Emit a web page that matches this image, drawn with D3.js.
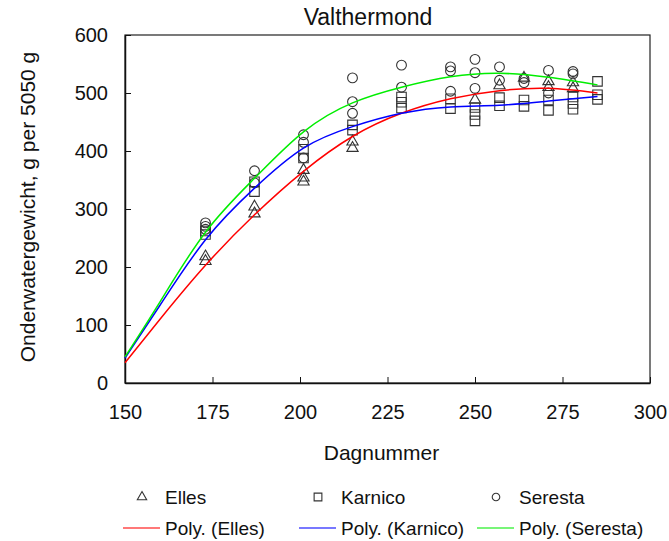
<!DOCTYPE html>
<html>
<head>
	<title>Valthermond</title>
	<script src="https://d3js.org/d3.v7.min.js" charset="utf-8"></script>
	<style>
		body { margin: 0; background: #fff; }
		text { font-family: "Liberation Sans", Arial, sans-serif; fill: #111; }
	</style>
</head>
<body>
	<script>
		// observations per variety: day number and weight
		var ellesDays = [173, 173, 187, 187, 201, 201, 201, 215, 215, 250, 257, 264, 271, 271, 278, 278];
		var ellesVals = [218, 210, 304, 292, 367, 354, 347, 416, 405, 488, 513, 526, 520, 510, 518, 508];

		var karnicoDays = [173, 173, 187, 187, 201, 201, 215, 215, 229, 229, 229, 243, 243, 250, 250, 250,
			257, 257, 264, 264, 271, 271, 278, 278, 278, 285, 285, 285];
		var karnicoVals = [262, 256, 347, 330, 403, 388, 445, 436, 493, 484, 474, 490, 473, 475, 463, 452,
			492, 478, 488, 477, 488, 470, 493, 482, 472, 520, 497, 489];

		var serestaDays = [173, 173, 173, 187, 187, 201, 201, 201, 215, 215, 215, 229, 229, 243, 243, 243,
			250, 250, 250, 257, 257, 264, 264, 271, 271, 278, 278];
		var serestaVals = [276, 270, 265, 366, 345, 428, 415, 388, 526, 485, 465, 548, 510, 545, 538, 503,
			558, 535, 508, 545, 522, 525, 518, 539, 500, 537, 533];

		// trendlines
		var trendDays = [150, 160, 173, 187, 201, 215, 229, 243, 257, 271, 285];
		var ellesTrend = [35, 110, 203, 290, 365, 425, 465, 490, 504, 508, 500];
		var karnicoTrend = [43, 134, 247, 336, 405, 442, 465, 476, 479, 486, 494];
		var serestaTrend = [45, 140, 260, 353, 433, 483, 510, 528, 534, 527, 514];

		var xTicks = [150, 175, 200, 225, 250, 275, 300];
		var yTicks = [0, 100, 200, 300, 400, 500, 600];

		var svgWidth = 669,
			svgHeight = 541,
			margin = {top: 35, right: 19, bottom: 158, left: 125},
			width = svgWidth - margin.left - margin.right,
			height = svgHeight - margin.top - margin.bottom,
			svg = d3.select("body")
				.append("svg")
				.attr("width", svgWidth)
				.attr("height", svgHeight),
			g = svg.append("g")
				.attr("transform", "translate(" + margin.left + "," + margin.top + ")");

		var x = d3.scaleLinear().domain([150, 300]).range([0, width]),
			y = d3.scaleLinear().domain([0, 600]).range([height, 0]);

		function pts(days, vals) {
			return days.map(function(d, i) { return {day: d, val: vals[i]}; });
		}

		var series = [
			{name: "Elles", shape: d3.symbolTriangle, color: "#ff0000", obs: pts(ellesDays, ellesVals), trend: pts(trendDays, ellesTrend)},
			{name: "Karnico", shape: d3.symbolSquare, color: "#0000ff", obs: pts(karnicoDays, karnicoVals), trend: pts(trendDays, karnicoTrend)},
			{name: "Seresta", shape: d3.symbolCircle, color: "#00ee00", obs: pts(serestaDays, serestaVals), trend: pts(trendDays, serestaTrend)}
		];

		// frame
		g.append("rect")
			.attr("width", width).attr("height", height)
			.attr("fill", "none").attr("stroke", "#222").attr("stroke-width", 1.2);

		// axes, ticks pointing inward
		var xAxis = g.append("g")
			.attr("transform", "translate(0," + height + ")")
			.call(d3.axisBottom(x).tickValues(xTicks).tickSize(-6).tickPadding(22).tickSizeOuter(0));
		var yAxis = g.append("g")
			.call(d3.axisLeft(y).tickValues(yTicks).tickSize(-6).tickPadding(17).tickSizeOuter(0));
		[xAxis, yAxis].forEach(function(a) {
			a.select(".domain").attr("stroke", "#111").attr("stroke-width", 1.5);
			a.selectAll(".tick line").attr("stroke", "#111");
			a.selectAll(".tick text").attr("font-size", 20).attr("font-family", null).attr("fill", "#111");
		});

		var line = d3.line()
			.x(function(d) { return x(d.day); })
			.y(function(d) { return y(d.val); })
			.curve(d3.curveNatural);

		// markers
		series.forEach(function(s) {
			var sym = d3.symbol().type(s.shape).size(s.shape === d3.symbolTriangle ? 55 : s.shape === d3.symbolSquare ? 90 : 75);
			g.append("g").selectAll("path")
				.data(s.obs)
				.enter().append("path")
				.attr("d", sym)
				.attr("transform", function(d) { return "translate(" + x(d.day) + "," + y(d.val) + ")"; })
				.attr("fill", "none")
				.attr("stroke", "#333")
				.attr("stroke-width", 1.1);
		});

		// trendlines
		series.forEach(function(s) {
			g.append("path")
				.datum(s.trend)
				.attr("d", line)
				.attr("fill", "none")
				.attr("stroke", s.color)
				.attr("stroke-width", 1.5);
		});

		// titles
		svg.append("text")
			.attr("x", 368).attr("y", 25)
			.attr("text-anchor", "middle")
			.attr("font-size", 23)
			.text("Valthermond");

		svg.append("text")
			.attr("x", margin.left + width / 2 - 6).attr("y", 460)
			.attr("text-anchor", "middle")
			.attr("font-size", 21)
			.text("Dagnummer");

		svg.append("text")
			.attr("transform", "translate(35," + (margin.top + height / 2 - 2) + ") rotate(-90)")
			.attr("text-anchor", "middle")
			.attr("font-size", 21)
			.text("Onderwatergewicht, g per 5050 g");

		// legend
		var legendX = [142, 318, 496];
		var legend = svg.append("g");
		series.forEach(function(s, i) {
			var sym = d3.symbol().type(s.shape).size(s.shape === d3.symbolTriangle ? 38 : s.shape === d3.symbolSquare ? 60 : 45);
			legend.append("path")
				.attr("d", sym)
				.attr("transform", "translate(" + legendX[i] + ",497)")
				.attr("fill", "none").attr("stroke", "#333").attr("stroke-width", 1.1);
			legend.append("text")
				.attr("x", legendX[i] + 23).attr("y", 504)
				.attr("font-size", 19)
				.text(s.name);
			legend.append("line")
				.attr("x1", legendX[i] - 19).attr("x2", legendX[i] + 18)
				.attr("y1", 528).attr("y2", 528)
				.attr("stroke", s.color).attr("stroke-width", 1.5).attr("opacity", 0.7);
			legend.append("text")
				.attr("x", legendX[i] + 23).attr("y", 535)
				.attr("font-size", 19)
				.text("Poly. (" + s.name + ")");
		});
	</script>
</body>
</html>
